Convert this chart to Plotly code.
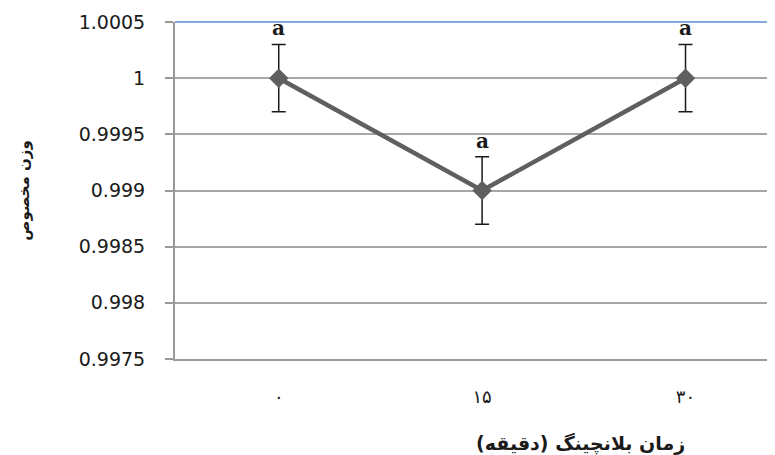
import plotly.graph_objects as go

categories = ["۰", "۱۵", "۳۰"]
values = [1.0, 0.999, 1.0]
errors = [0.0003, 0.0003, 0.0003]
letters = ["a", "a", "a"]
y_ticks = [0.9975, 0.998, 0.9985, 0.999, 0.9995, 1.0, 1.0005]
y_tick_text = ["0.9975", "0.998", "0.9985", "0.999", "0.9995", "1", "1.0005"]
x_title = "زمان بلانچینگ (دقیقه)"
y_title = "وزن مخصوص"

xpos = list(range(len(categories)))

fig = go.Figure()
fig.add_trace(go.Scatter(
    x=xpos, y=values, mode="lines+markers",
    line=dict(color="#5f5f5f", width=4.5),
    marker=dict(symbol="diamond", size=15, color="#5f5f5f"),
    error_y=dict(type="data", array=errors, visible=True, color="#1a1a1a", thickness=1.5, width=7),
    showlegend=False,
))

for x, v, e, t in zip(xpos, values, errors, letters):
    fig.add_annotation(x=x, y=v + e, text="<b>" + t + "</b>", showarrow=False,
                       yanchor="bottom", yshift=2,
                       font=dict(family="DejaVu Serif", size=20, color="#1a1a1a"))

fig.add_annotation(xref="paper", yref="paper", x=0.675, y=-0.252, text="<b>" + x_title + "</b>",
                   showarrow=False, xanchor="center", yanchor="middle",
                   font=dict(family="DejaVu Sans", size=19, color="#1a1a1a"))
fig.add_annotation(xref="paper", yref="paper", x=-0.253, y=0.5, text="<b>" + y_title + "</b>",
                   showarrow=False, xanchor="center", yanchor="middle", textangle=-90,
                   font=dict(family="DejaVu Sans", size=15, color="#1a1a1a"))

fig.add_shape(type="line", xref="paper", yref="paper", x0=0, x1=1, y0=1, y1=1,
              line=dict(color="#5b8fd0", width=1.5))

fig.update_layout(
    width=767, height=447,
    margin=dict(l=167, r=0, t=14, b=96),
    paper_bgcolor="white", plot_bgcolor="white",
    font=dict(family="DejaVu Sans", color="#1a1a1a"),
    xaxis=dict(
        range=[-0.51, 2.44], tickmode="array", tickvals=xpos, ticktext=categories,
        showgrid=False, showline=True, linecolor="#999999", linewidth=2,
        ticks="", tickfont=dict(size=18, color="#1a1a1a"), ticklabelstandoff=20,
        zeroline=False, automargin=False,
    ),
    yaxis=dict(
        range=[0.9975, 1.0005], tickmode="array", tickvals=y_ticks, ticktext=y_tick_text,
        showgrid=True, gridcolor="#a6a6a6", gridwidth=1.5,
        showline=True, linecolor="#999999", linewidth=2,
        ticks="outside", ticklen=8, tickcolor="#999999", tickwidth=1.5,
        tickfont=dict(size=19, color="#1a1a1a"), ticklabelstandoff=16,
        zeroline=False, automargin=False,
    ),
)

fig.write_html("out.html")
